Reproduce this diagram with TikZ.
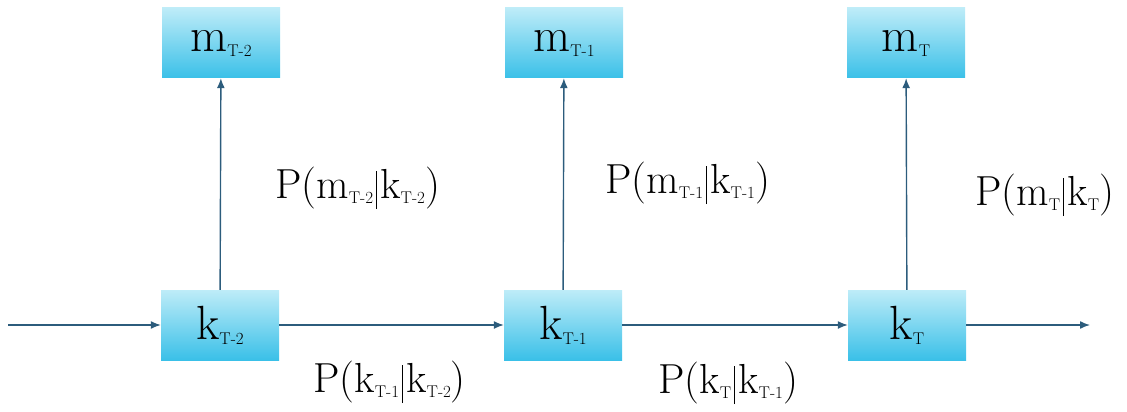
\documentclass[tikz,border=0pt]{standalone}
\usepackage{fontspec}
\usetikzlibrary{arrows.meta}
\definecolor{boxtop}{RGB}{190,236,248}
\definecolor{boxbot}{RGB}{58,192,232}
\definecolor{arr}{RGB}{44,92,124}
\newcommand{\sbx}[1]{\raisebox{-5pt}{\fontsize{17}{17}\selectfont\addfontfeatures{FakeBold=0.8}#1}}
\newcommand{\gbar}{\hspace{3pt}\rule[-11pt]{1.2pt}{38pt}\hspace{3pt}}
\newcommand{\bigt}{\rmfamily\fontsize{48}{50}\selectfont\addfontfeatures{FakeBold=0.8}}
\newcommand{\labt}{\rmfamily\fontsize{42}{44}\selectfont\addfontfeatures{FakeBold=0.8}}
\tikzset{
  varbox/.style={minimum width=118pt, minimum height=70pt, inner sep=0pt,
    top color=boxtop, bottom color=boxbot, draw=none, font=\bigt},
  conn/.style={draw=arr, line width=1.4pt, -{Latex[length=10pt,width=8pt]}},
  lab/.style={font=\labt, inner sep=0pt, anchor=base west}
}
\begin{document}
\begin{tikzpicture}[x=1pt,y=-1pt]
\useasboundingbox (0,0) rectangle (1127,412);
\node[varbox] (mA) at (221,43) {m\sbx{T-2}};
\node[varbox] (kA) at (220,325) {k\sbx{T-2}};
\node[varbox] (mB) at (564,43) {m\sbx{T-1}};
\node[varbox] (kB) at (563,325) {k\sbx{T-1}};
\node[varbox] (mC) at (906,43) {m\sbx{T}};
\node[varbox] (kC) at (907,325) {k\sbx{T}};
\coordinate (in) at (8,325);
\coordinate (out) at (1090,325);
\draw[conn] (in) -- (kA);
\draw[conn] (kA) -- (kB);
\draw[conn] (kB) -- (kC);
\draw[conn] (kC) -- (out);
\draw[conn] (kA) -- (mA);
\draw[conn] (kB) -- (mB);
\draw[conn] (kC) -- (mC);
\node[lab] (l1) at (275,198) {P(m\sbx{T-2}\gbar k\sbx{T-2})};
\node[lab] (l2) at (605,193) {P(m\sbx{T-1}\gbar k\sbx{T-1})};
\node[lab] (l3) at (975,205) {P(m\sbx{T}\gbar k\sbx{T})};
\node[lab] (l4) at (313,392) {P(k\sbx{T-1}\gbar k\sbx{T-2})};
\node[lab] (l5) at (658,393) {P(k\sbx{T}\gbar k\sbx{T-1})};
\end{tikzpicture}
\end{document}
